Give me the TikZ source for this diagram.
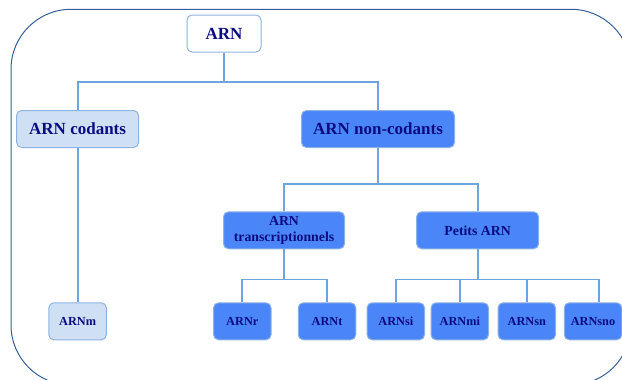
\documentclass[tikz,border=0pt]{standalone}
\usepackage{fontspec}
\setmainfont{Liberation Serif}
\definecolor{navytext}{RGB}{12,12,130}
\definecolor{darkfill}{RGB}{74,134,248}
\definecolor{lightfill}{RGB}{207,224,244}
\definecolor{boxborder}{RGB}{141,179,226}
\definecolor{linkcol}{RGB}{112,164,224}
\definecolor{framecol}{RGB}{50,95,155}
\begin{document}
\begin{tikzpicture}[x=1pt,y=-1pt,
  basebox/.style={rectangle,rounded corners=5pt,draw=boxborder,line width=1pt,inner sep=0pt,
    text=navytext,font=\bfseries,minimum height=37pt,align=center},
  topbox/.style={basebox,fill=white,minimum width=74pt,font=\fontsize{17}{20}\bfseries},
  lightbox/.style={basebox,fill=lightfill},
  darkbox/.style={basebox,fill=darkfill},
  bigtxt/.style={font=\fontsize{17}{20}\bfseries},
  midtxt/.style={font=\fontsize{13.8}{16.7}\bfseries},
  smalltxt/.style={font=\fontsize{12.3}{14}\bfseries,minimum width=57.5pt},
  link/.style={draw=linkcol,line width=1.8pt}]
\clip (0,0) rectangle (622,380);
\draw[framecol,line width=1pt,rounded corners=60pt] (11,9.3) rectangle (631,385);

\node[topbox] (arn) at (224,33.5) {ARN};
\node[lightbox,bigtxt,minimum width=122pt] (cod) at (77.6,129) {ARN codants};
\node[darkbox,bigtxt,minimum width=153pt] (noncod) at (378,129) {ARN non-codants};
\node[darkbox,midtxt,minimum width=121pt] (trans) at (284,230.3) {ARN\\transcriptionnels};
\node[darkbox,midtxt,minimum width=122pt] (petits) at (477.6,230.3) {Petits ARN};

\node[lightbox,smalltxt] (arnm) at (77.6,321.3) {ARNm};
\node[darkbox,smalltxt] (arnr) at (242.3,321.3) {ARNr};
\node[darkbox,smalltxt] (arnt) at (327,321.3) {ARNt};
\node[darkbox,smalltxt] (arnsi) at (395.8,321.3) {ARNsi};
\node[darkbox,smalltxt] (arnmi) at (459.8,321.3) {ARNmi};
\node[darkbox,smalltxt] (arnsn) at (526.8,321.3) {ARNsn};
\node[darkbox,smalltxt] (arnsno) at (593,321.3) {ARNsno};

\coordinate (j1) at (224,82.3);
\coordinate (j2) at (378,184.3);
\coordinate (j3) at (284,279.5);
\coordinate (j4) at (477.6,279.5);

\path[link] (arn.south) -- (j1);
\path[link] (cod.north) |- (j1) -| (noncod.north);
\path[link] (noncod.south) -- (j2);
\path[link] (trans.north) |- (j2) -| (petits.north);
\path[link] (cod.south) -- (arnm.north);
\path[link] (trans.south) -- (j3);
\path[link] (arnr.north) |- (j3) -| (arnt.north);
\path[link] (petits.south) -- (j4);
\path[link] (arnsi.north) |- (j4) -| ([xshift=6pt]arnsno.north);
\path[link] (arnmi.north) -- (arnmi.north |- j4);
\path[link] (arnsn.north) -- (arnsn.north |- j4);
\end{tikzpicture}
\end{document}
